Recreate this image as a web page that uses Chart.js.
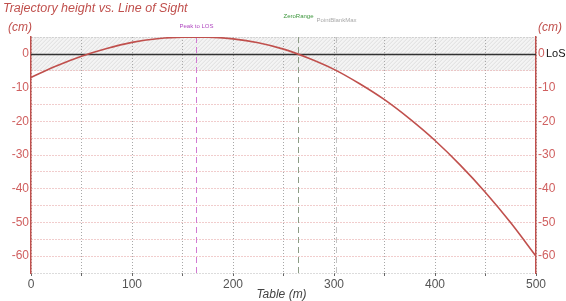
<!DOCTYPE html>
<html>
<head>
<meta charset="utf-8">
<script src="https://cdn.jsdelivr.net/npm/chart.js@4.4.1/dist/chart.umd.min.js"></script>
<style>
  html, body { margin: 0; padding: 0; background: #fff; }
  #wrap { width: 566px; height: 301px; }
</style>
</head>
<body>
<div id="wrap"><canvas id="trajChart" width="566" height="301"></canvas></div>
<script>
// range (m) and trajectory height vs. line of sight (cm)
const rangeM = [0, 25, 50, 75, 100, 125, 150, 175, 200, 225, 250, 275, 300, 325, 350, 375, 400, 425, 450, 475, 500];
const heightCm = [-7.0, -3.6, -0.7, 1.6, 3.4, 4.5, 4.95, 4.95, 4.45, 3.3, 1.4, -1.3, -4.6, -8.8, -13.6, -19.3, -25.7, -33.0, -41.1, -50.1, -60.0];

// marker lines
const markerNames = ['Peak to LOS', 'ZeroRange', 'PointBlankMax'];
const markerRange = [163, 264, 302];

const xTicks = [0, 100, 200, 300, 400, 500];
const yTicks = [0, -10, -20, -30, -40, -50, -60];

const RED = '#c0504d';
const markerColors = ['#d27ad2', '#8d9c86', '#c4c4c4'];
const markerTextColors = ['#b048c0', '#3c963c', '#a8a8a8'];
const markerTextY = [26, 16, 20];

const extras = {
    id: 'extras',
    beforeDraw(chart) {
        const { ctx, chartArea: a, scales } = chart;
        const yTop = scales.y.getPixelForValue(5);
        const yBot = scales.y.getPixelForValue(-5);
        ctx.save();
        ctx.fillStyle = '#f4f4f4';
        ctx.fillRect(a.left, yTop, a.right - a.left, yBot - yTop);
        ctx.beginPath();
        ctx.rect(a.left, yTop, a.right - a.left, yBot - yTop);
        ctx.clip();
        ctx.strokeStyle = '#dedede';
        ctx.lineWidth = 1;
        ctx.beginPath();
        for (let x = a.left - 40; x < a.right + 40; x += 4) {
            ctx.moveTo(x, yBot);
            ctx.lineTo(x + (yBot - yTop), yTop);
        }
        ctx.stroke();
        ctx.restore();
    },
    beforeDatasetsDraw(chart) {
        const { ctx, chartArea: a, scales } = chart;
        ctx.save();
        // vertical markers
        markerRange.forEach((m, i) => {
            const x = Math.round(scales.x.getPixelForValue(m)) + 0.5;
            ctx.strokeStyle = markerColors[i];
            ctx.lineWidth = 1;
            ctx.setLineDash([6, 4]);
            ctx.beginPath();
            ctx.moveTo(x, a.top);
            ctx.lineTo(x, a.bottom);
            ctx.stroke();
            ctx.setLineDash([]);
            ctx.fillStyle = markerTextColors[i];
            ctx.font = '6px "Liberation Sans", Arial, sans-serif';
            ctx.textAlign = 'center';
            ctx.textBaseline = 'middle';
            ctx.fillText(markerNames[i], x, markerTextY[i]);
        });
        // line of sight
        const y0 = Math.round(scales.y.getPixelForValue(0)) + 0.5;
        ctx.strokeStyle = '#333';
        ctx.lineWidth = 1.5;
        ctx.beginPath();
        ctx.moveTo(a.left, y0);
        ctx.lineTo(a.right, y0);
        ctx.stroke();
        ctx.restore();
    },
    afterDraw(chart) {
        const { ctx, chartArea: a, scales } = chart;
        ctx.save();
        ctx.textBaseline = 'middle';
        ctx.fillStyle = RED;
        ctx.font = 'italic 12.5px "Liberation Sans", Arial, sans-serif';
        ctx.textAlign = 'left';
        ctx.fillText('Trajectory height vs. Line of Sight', 3, 9);
        ctx.font = 'italic 12px "Liberation Sans", Arial, sans-serif';
        ctx.fillText('(cm)', 8, 28);
        ctx.fillText('(cm)', 538, 28);
        ctx.fillStyle = '#111';
        ctx.font = '11px "Liberation Sans", Arial, sans-serif';
        ctx.fillText('LoS', 546, scales.y.getPixelForValue(0));
        ctx.fillStyle = '#444';
        ctx.font = 'italic 12px "Liberation Sans", Arial, sans-serif';
        ctx.textAlign = 'center';
        ctx.fillText('Table (m)', (a.left + a.right) / 2 - 2, 295);
        ctx.restore();
    }
};

const yGridColor = ctx => {
    const v = ctx.tick ? ctx.tick.value : null;
    if (v === 0) return 'rgba(0,0,0,0)';
    if (v === 5 || v === -65) return '#b8b8b8';
    return '#e39a9a';
};

new Chart(document.getElementById('trajChart'), {
    type: 'line',
    data: {
        datasets: [{
            data: rangeM.map((r, i) => ({ x: r, y: heightCm[i] })),
            borderColor: RED,
            borderWidth: 1.6,
            pointRadius: 0,
            cubicInterpolationMode: 'monotone',
            fill: false,
            yAxisID: 'y'
        }]
    },
    plugins: [extras],
    options: {
        responsive: false,
        animation: false,
        events: [],
        layout: { padding: { top: 37, left: 0, right: 0, bottom: 0 } },
        plugins: { legend: { display: false }, tooltip: { enabled: false } },
        scales: {
            x: {
                type: 'linear',
                min: 0,
                max: 500,
                ticks: {
                    stepSize: 50,
                    color: '#555',
                    font: { family: '"Liberation Sans", Arial, sans-serif', size: 12 },
                    padding: 1,
                    maxRotation: 0,
                    autoSkip: false,
                    callback: v => xTicks.includes(v) ? String(v) : ''
                },
                grid: { color: '#a8a8a8', lineWidth: 1, tickLength: 3, tickColor: '#666' },
                border: { display: false, dash: [1, 2] },
                afterFit: s => { s.height = 28; }
            },
            y: {
                position: 'left',
                min: -65,
                max: 5,
                ticks: {
                    stepSize: 5,
                    color: '#d06060',
                    font: { family: '"Liberation Sans", Arial, sans-serif', size: 12 },
                    padding: 2,
                    autoSkip: false,
                    callback: v => yTicks.includes(v) ? String(v) : ''
                },
                grid: { color: yGridColor, lineWidth: 1, drawTicks: false },
                border: { display: true, color: RED, width: 1.5, dash: [1, 2] },
                afterFit: s => { s.width = 31; }
            },
            y2: {
                position: 'right',
                min: -65,
                max: 5,
                ticks: {
                    stepSize: 5,
                    color: '#d06060',
                    font: { family: '"Liberation Sans", Arial, sans-serif', size: 12 },
                    padding: 2,
                    autoSkip: false,
                    callback: v => yTicks.includes(v) ? String(v) : ''
                },
                grid: { display: false, drawTicks: false },
                border: { display: true, color: RED, width: 1.5 },
                afterFit: s => { s.width = 30; }
            }
        }
    }
});
</script>
</body>
</html>
